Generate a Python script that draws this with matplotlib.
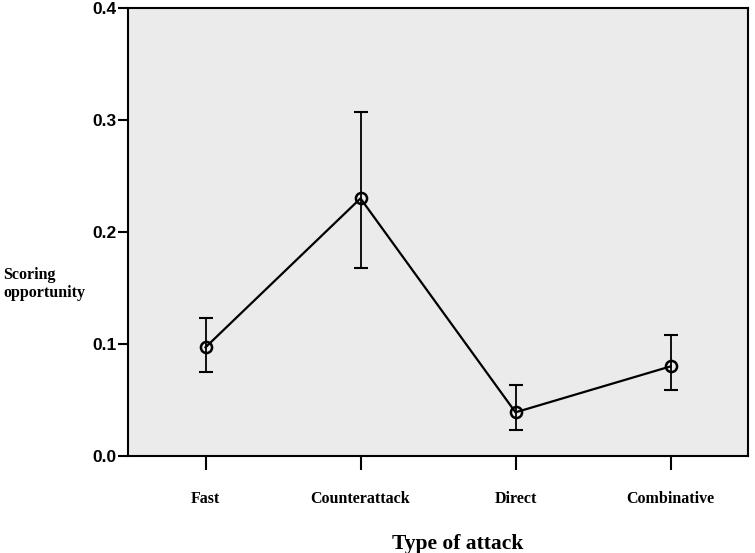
import numpy as np
import matplotlib.pyplot as plt

categories = ['Fast', 'Counterattack', 'Direct', 'Combinative']
means = [0.097, 0.230, 0.039, 0.080]
ci_low = [0.075, 0.168, 0.023, 0.059]
ci_high = [0.123, 0.307, 0.063, 0.108]

x = np.arange(len(categories))
yerr = [np.array(means) - np.array(ci_low), np.array(ci_high) - np.array(means)]

fig = plt.figure(figsize=(7.55, 5.53), dpi=100)
ax = fig.add_axes([128 / 755, 97 / 553, 620 / 755, 448 / 553])
ax.set_facecolor('#ebebeb')

ax.errorbar(x, means, yerr=yerr, fmt='none', ecolor='black', elinewidth=1.3,
            capsize=5, capthick=1.5, zorder=2)
ax.plot(x, means, color='black', lw=1.6, marker='o', markersize=8,
        markerfacecolor='none', markeredgecolor='black', markeredgewidth=1.8, zorder=3)

ax.set_xlim(-0.5, 3.5)
ax.set_ylim(0, 0.4)
ax.set_yticks([0.0, 0.1, 0.2, 0.3, 0.4])
ax.set_yticklabels(['0.0', '0.1', '0.2', '0.3', '0.4'],
                   fontfamily='Liberation Sans', fontweight='bold', fontsize=12.5)
ax.set_xticks(x)
ax.set_xticklabels(categories, fontfamily='Liberation Serif', fontweight='bold', fontsize=11.5)
ax.tick_params(axis='y', length=7, width=1.5, pad=1)
ax.tick_params(axis='x', length=10, width=1.5, pad=15)
for s in ax.spines.values():
    s.set_linewidth(1.5)
    s.set_color('black')

ax.set_xlabel('Type of attack', fontfamily='Liberation Serif', fontweight='bold',
              fontsize=15.5, labelpad=19)
ax.xaxis.set_label_coords(0.532, -0.175)
fig.text(3 / 755, 1 - 284 / 553, 'Scoring\nopportunity', fontfamily='Liberation Serif',
         fontweight='bold', fontsize=11.5, ha='left', va='center', linespacing=1.1)

fig.savefig('out.png', dpi=100)
